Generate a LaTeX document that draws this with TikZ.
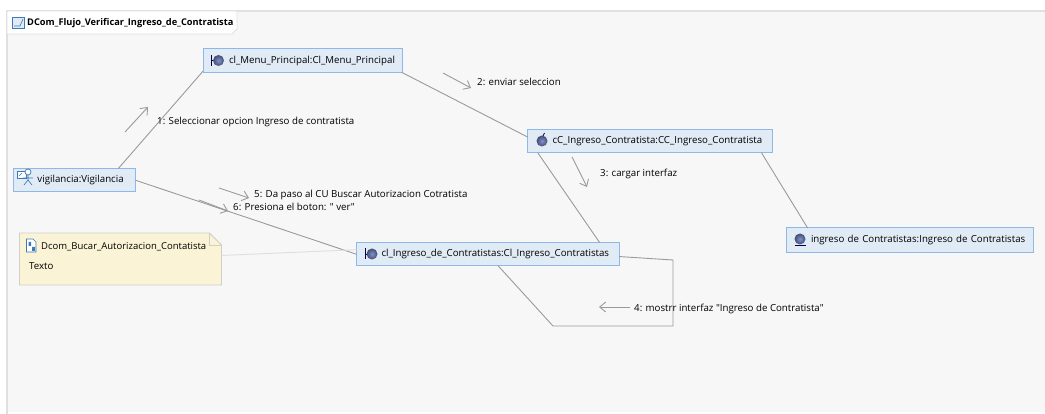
\documentclass[tikz,border=0pt]{standalone}
\usepackage{fontspec}
\newfontfamily\diagramfont{Open Sans}
\usetikzlibrary{arrows.meta}

\definecolor{boxfill}{HTML}{E1EBF6}
\definecolor{boxline}{HTML}{8DB8E8}
\definecolor{notefill}{HTML}{FAF3D6}
\definecolor{noteline}{HTML}{CFCFC8}
\definecolor{canvas}{HTML}{F7F7F7}
\definecolor{framegray}{HTML}{E0E0E0}
\definecolor{linkgray}{HTML}{9A9A9A}
\definecolor{ballblue}{HTML}{7F90CC}
\definecolor{iconblue}{HTML}{3F78B4}

\tikzset{
    objbox/.style={draw=boxline, line width=1pt, fill=boxfill, rectangle, anchor=north west,
        inner xsep=0pt, inner ysep=0pt, outer sep=0pt, minimum height=23.5pt,
        text width=#1, align=left, text height=7.5pt, text depth=2.5pt, font=\diagramfont\fontsize{9.7}{11}\selectfont},
    msgtext/.style={anchor=west, inner sep=0pt, text height=7.5pt, text depth=2.5pt, font=\diagramfont\fontsize{9.7}{11}\selectfont},
    link/.style={draw=linkgray, line width=0.9pt},
    msgarrow/.style={draw=linkgray, line width=0.9pt, -{Straight Barb[length=6pt, width=10pt]}},
    ball/.pic={\shade[inner color=ballblue, outer color=ballblue!55!black] (0,0) circle (5.5);},
    boundaryicon/.pic={
        \draw[black!70!blue, line width=0.8pt] (-7,-5.5) -- (-7,5.5) (-7,0) -- (-3,0);
        \pic {ball};
    },
    controlicon/.pic={
        \draw[black!70!blue, line width=0.8pt] (0.5,-4) -- (2.5,-8);
        \pic {ball};
    },
    entityicon/.pic={
        \pic {ball};
        \draw[black!70!blue, line width=0.9pt] (-5.5,6.5) -- (5.5,6.5);
    },
    actoricon/.pic={
        \draw[iconblue, line width=0.7pt, fill=white] (-11,-7) rectangle (-2,0);
        \draw[iconblue, line width=0.7pt] (-9,-2) -- (-6,-5);
        \draw[iconblue, line width=0.7pt, fill=white] (0,-6) circle (3);
        \draw[iconblue, line width=0.7pt] (0,-3) -- (0,2) (-5,0) -- (5,0) (-4,7) -- (0,2) -- (4,7);
    }
}

\begin{document}
\begin{tikzpicture}[x=1pt, y=-1pt]
    \useasboundingbox (0,0) rectangle (1045,414);

    % Frame and title tab
    \fill[canvas] (7,11) rectangle (1045,412);
    \draw[framegray, line width=1.5pt] (1045,11) -- (7,11) -- (7,414);
    \draw[framegray, fill=white, line width=0.8pt] (7,11) -- (237,11) -- (237,29) -- (232,34) -- (7,34) -- cycle;
    \draw[iconblue, fill=boxfill, line width=0.8pt] (12.5,17.5) rectangle (24.5,28);
    \draw[iconblue, line width=0.6pt] (14,26) -- (20,26) -- (23,19);
    \node[msgtext, font=\diagramfont\fontsize{9.25}{11}\selectfont\bfseries] (diagramTitle) at (27,23.5) {DCom\_Flujo\_Verificar\_Ingreso\_de\_Contratista};

    % Objects
    \node[objbox=199pt] (menuPrincipal) at (203,49) {\hspace*{26pt}cl\_Menu\_Principal:Cl\_Menu\_Principal};
    \node[objbox=122pt] (vigilancia) at (13.5,168.5) {\hspace*{24pt}vigilancia:Vigilancia};
    \node[objbox=244.5pt] (ccIngreso) at (527.5,129.5) {\hspace*{25pt}cC\_Ingreso\_Contratista:CC\_Ingreso\_Contratista};
    \node[objbox=262.5pt] (clIngreso) at (356.5,242.5) {\hspace*{25pt}cl\_Ingreso\_de\_Contratistas:Cl\_Ingreso\_Contratistas};
    \node[objbox=247pt, minimum height=25pt] (ingresoContratistas) at (786,228) {\hspace*{25pt}ingreso de Contratistas:Ingreso de Contratistas};

    \pic at (218.5,60.5) {boundaryicon};
    \pic at (372,254) {boundaryicon};
    \pic at (542,141) {controlicon};
    \pic at (800,239) {entityicon};
    \pic at (28,178) {actoricon};

    % Note
    \node[fill=notefill, anchor=north west, inner sep=0pt, outer sep=0pt, minimum width=202pt, minimum height=52pt] (noteBuscar) at (19.5,233) {};
    \fill[canvas] (209.5,233) -- (221.5,233) -- (221.5,245) -- cycle;
    \draw[noteline, line width=0.9pt] (209.5,233) -- (19.5,233) -- (19.5,285) -- (221.5,285) -- (221.5,245) -- cycle;
    \draw[noteline, line width=0.9pt] (209.5,233) -- (209.5,245) -- (221.5,245);
    \draw[iconblue, fill=white, line width=0.7pt] (26.5,239) -- (33,239) -- (36,242) -- (36,252) -- (26.5,252) -- cycle;
    \fill[iconblue] (28.5,242) rectangle (31,246) (32,247) rectangle (35,251);
    \node[msgtext, font=\diagramfont\fontsize{9.5}{11}\selectfont] (noteTitle) at (41,247.5) {Dcom\_Bucar\_Autorizacion\_Contatista};
    \node[msgtext] (noteText) at (29,267.5) {Texto};

    % Links
    \draw[link] (vigilancia.15) -- (menuPrincipal.186.87);
    \draw[link] (menuPrincipal.south east) -- (ccIngreso.178.95);
    \draw[link] (ccIngreso.186.65) -- (clIngreso.6.08);
    \draw[link] (ccIngreso.354.13) -- (ingresoContratistas.173.88);
    \draw[link] (vigilancia.east) -- (clIngreso.west);
    \draw[framegray, line width=1pt] (noteBuscar.2.27) -- (clIngreso.178.15);

    \coordinate (loopA) at (673,260);
    \coordinate (loopB) at (673,326);
    \coordinate (loopC) at (553,326);
    \draw[link] (clIngreso.-1.64) -- (loopA) -- (loopB) -- (loopC) -- (clIngreso.-48.9);

    % Messages
    \coordinate (msgOneA) at (125,132);
    \coordinate (msgOneB) at (148,107);
    \coordinate (msgTwoA) at (443,73);
    \coordinate (msgTwoB) at (471,88);
    \coordinate (msgThreeA) at (572,157);
    \coordinate (msgThreeB) at (587,187);
    \coordinate (msgFourA) at (630,307);
    \coordinate (msgFourB) at (599,307);
    \coordinate (msgFiveA) at (219,188);
    \coordinate (msgFiveB) at (249,198);
    \coordinate (msgSixA) at (199,200);
    \coordinate (msgSixB) at (228,211);

    \draw[msgarrow] (msgOneA) -- (msgOneB);
    \draw[msgarrow] (msgTwoA) -- (msgTwoB);
    \draw[msgarrow] (msgThreeA) -- (msgThreeB);
    \draw[msgarrow] (msgFourA) -- (msgFourB);
    \draw[msgarrow] (msgFiveA) -- (msgFiveB);
    \draw[msgarrow] (msgSixA) -- (msgSixB);

    \node[msgtext] (msgOne) at (157,122.5) {1: Seleccionar opcion Ingreso de contratista};
    \node[msgtext] (msgTwo) at (477,83) {2: enviar seleccion};
    \node[msgtext] (msgThree) at (600,174) {3: cargar interfaz};
    \node[msgtext] (msgFour) at (634,309.5) {4: mostrr interfaz "Ingreso de Contratista"};
    \node[msgtext] (msgFive) at (254,195.5) {5: Da paso al CU Buscar Autorizacion Cotratista};
    \node[msgtext] (msgSix) at (233,208) {6: Presiona el boton: " ver"};
\end{tikzpicture}
\end{document}
